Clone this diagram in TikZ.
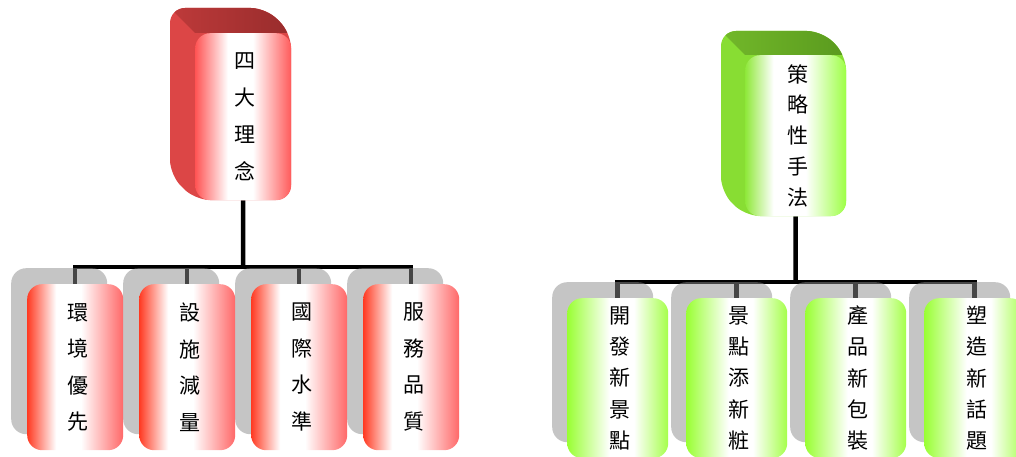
\documentclass[tikz,border=0pt]{standalone}
\usepackage{fontspec}
\newfontfamily\cjk{Noto Sans CJK TC}
\definecolor{rk1}{HTML}{FF3A22}
\definecolor{rk2}{HTML}{FF6868}
\definecolor{rt1}{HTML}{FF5454}
\definecolor{rt2}{HTML}{FF5A5A}
\definecolor{rside}{HTML}{DC4646}
\definecolor{rtopA}{HTML}{BE3A3A}
\definecolor{rtopB}{HTML}{982C2C}
\definecolor{gk1}{HTML}{99FF33}
\definecolor{gk2}{HTML}{A5FF4A}
\definecolor{gt1}{HTML}{8FE83A}
\definecolor{gt2}{HTML}{9DFF45}
\definecolor{gside}{HTML}{88DD33}
\definecolor{gtopA}{HTML}{72B82A}
\definecolor{gtopB}{HTML}{5A9A1E}
\pgfdeclarehorizontalshading{redkid}{100bp}{color(0bp)=(rk1); color(25bp)=(rk1); color(40bp)=(white); color(53bp)=(white); color(75bp)=(rk2); color(100bp)=(rk2)}
\pgfdeclarehorizontalshading{redtop}{100bp}{color(0bp)=(rt1); color(25bp)=(rt1); color(42bp)=(white); color(55bp)=(white); color(75bp)=(rt2); color(100bp)=(rt2)}
\pgfdeclarehorizontalshading{greenkid}{100bp}{color(0bp)=(gk1); color(25bp)=(gk1); color(46bp)=(white); color(58bp)=(white); color(75bp)=(gk2); color(100bp)=(gk2)}
\pgfdeclarehorizontalshading{greentop}{100bp}{color(0bp)=(gt1); color(25bp)=(gt1); color(39bp)=(white); color(55bp)=(white); color(75bp)=(gt2); color(100bp)=(gt2)}
\pgfdeclarelayer{bg}
\pgfdeclarelayer{mid}
\pgfsetlayers{bg,mid,main}
\begin{document}
\begin{tikzpicture}[x=1pt,y=-1pt,
  conn/.style={line width=4.5pt, black},
  shadowbox/.style={draw=none, fill=black!45, fill opacity=0.5, rounded corners=15pt, anchor=north west, inner sep=0pt},
  redkidbox/.style={shading=redkid, rounded corners=15pt, anchor=north west, inner sep=0pt, minimum width=96pt, minimum height=166pt, font=\cjk\fontsize{21}{36.5}\selectfont, align=center},
  greenkidbox/.style={shading=greenkid, rounded corners=15pt, anchor=north west, inner sep=0pt, minimum width=101pt, minimum height=160pt, font=\cjk\fontsize{21}{31.3}\selectfont, align=center},
  redtopbox/.style={shading=redtop, rounded corners=15pt, anchor=north west, inner sep=0pt, minimum width=96pt, minimum height=167pt, font=\cjk\fontsize{21}{37}\selectfont, align=center},
  greentopbox/.style={shading=greentop, rounded corners=15pt, anchor=north west, inner sep=0pt, minimum width=101pt, minimum height=161pt, font=\cjk\fontsize{21}{30.8}\selectfont, align=center}
]
\useasboundingbox (0,0) rectangle (1016,457);

% ---------- left chart: top 3D box ----------
\fill[rside, rounded corners=15pt] (170,8) -- (266,8) -- (291,33) -- (291,200) -- (195,200) -- (170,175) -- cycle;
\begin{scope}
  \clip[rounded corners=15pt] (170,8) -- (266,8) -- (291,33) -- (291,200) -- (195,200) -- (170,175) -- cycle;
  \shade[left color=rtopA, right color=rtopB] (170,8) -- (266,8) -- (291,33) -- (195,33) -- cycle;
\end{scope}
\node[redtopbox] (rtop) at (195,33) {\hspace*{4pt}四\\\hspace*{4pt}大\\\hspace*{4pt}理\\\hspace*{4pt}念};

% left children
\node[redkidbox] (rk1) at (27,284) {\hspace*{6pt}環\\\hspace*{6pt}境\\\hspace*{6pt}優\\\hspace*{6pt}先};
\node[redkidbox] (rk2) at (139,284) {\hspace*{6pt}設\\\hspace*{6pt}施\\\hspace*{6pt}減\\\hspace*{6pt}量};
\node[redkidbox] (rk3) at (251,284) {\hspace*{6pt}國\\\hspace*{6pt}際\\\hspace*{6pt}水\\\hspace*{6pt}準};
\node[redkidbox] (rk4) at (363,284) {\hspace*{6pt}服\\\hspace*{6pt}務\\\hspace*{6pt}品\\\hspace*{6pt}質};

\begin{pgfonlayer}{mid}
  \foreach \i/\x in {1/11,2/123,3/235,4/347}
    \node[shadowbox, minimum width=96pt, minimum height=166pt] (rs\i) at (\x,268) {};
\end{pgfonlayer}

\begin{pgfonlayer}{bg}
  \coordinate (rbar) at (243,267);
  \draw[conn] (rtop.south) -- (rbar);
  \foreach \k in {rk1,rk2,rk3,rk4}
    \draw[conn] (rbar) -| (\k.north);
\end{pgfonlayer}

% ---------- right chart: top 3D box ----------
\fill[gside, rounded corners=15pt] (721,31) -- (822,31) -- (846,55) -- (846,216) -- (745,216) -- (721,192) -- cycle;
\begin{scope}
  \clip[rounded corners=15pt] (721,31) -- (822,31) -- (846,55) -- (846,216) -- (745,216) -- (721,192) -- cycle;
  \shade[left color=gtopA, right color=gtopB] (721,31) -- (822,31) -- (846,55) -- (745,55) -- cycle;
\end{scope}
\node[greentopbox] (gtop) at (745,55) {\hspace*{4pt}策\\\hspace*{4pt}略\\\hspace*{4pt}性\\\hspace*{4pt}手\\\hspace*{4pt}法};

% right children
\node[greenkidbox] (gk1) at (567,298) {\hspace*{4pt}開\\\hspace*{4pt}發\\\hspace*{4pt}新\\\hspace*{4pt}景\\\hspace*{4pt}點};
\node[greenkidbox] (gk2) at (686,298) {\hspace*{4pt}景\\\hspace*{4pt}點\\\hspace*{4pt}添\\\hspace*{4pt}新\\\hspace*{4pt}粧};
\node[greenkidbox] (gk3) at (805,298) {\hspace*{4pt}產\\\hspace*{4pt}品\\\hspace*{4pt}新\\\hspace*{4pt}包\\\hspace*{4pt}裝};
\node[greenkidbox] (gk4) at (924,298) {\hspace*{4pt}塑\\\hspace*{4pt}造\\\hspace*{4pt}新\\\hspace*{4pt}話\\\hspace*{4pt}題};

\begin{pgfonlayer}{mid}
  \foreach \i/\x in {1/552,2/671,3/790,4/909}
    \node[shadowbox, minimum width=101pt, minimum height=160pt] (gs\i) at (\x,282) {};
\end{pgfonlayer}

\begin{pgfonlayer}{bg}
  \coordinate (gbar) at (795.5,282);
  \draw[conn] (gtop.south) -- (gbar);
  \foreach \k in {gk1,gk2,gk3,gk4}
    \draw[conn] (gbar) -| (\k.north);
\end{pgfonlayer}
\end{tikzpicture}
\end{document}
